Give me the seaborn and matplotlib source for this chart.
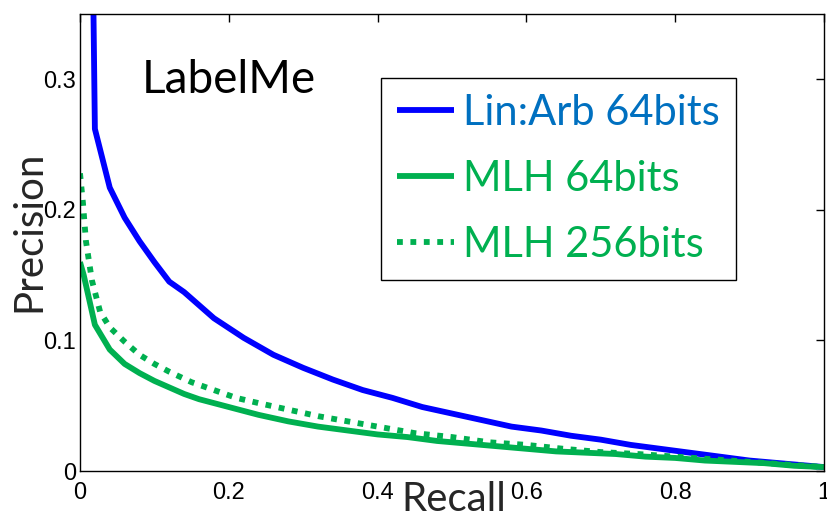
import numpy as np
import pandas as pd
import matplotlib
matplotlib.use("Agg")
import matplotlib.pyplot as plt
import seaborn as sns

# ---- data ----
linarb_recall = [0.016, 0.02, 0.04, 0.06, 0.08, 0.10, 0.12, 0.14, 0.18, 0.22, 0.26, 0.30, 0.34, 0.38,
                 0.42, 0.46, 0.50, 0.54, 0.58, 0.62, 0.66, 0.70, 0.74, 0.78, 0.82, 0.86, 0.90, 0.94, 1.0]
linarb_prec = [0.45, 0.262, 0.217, 0.194, 0.176, 0.160, 0.145, 0.137, 0.117, 0.102, 0.089, 0.079, 0.070,
               0.062, 0.056, 0.049, 0.044, 0.039, 0.034, 0.031, 0.027, 0.024, 0.020, 0.017, 0.014, 0.011,
               0.008, 0.006, 0.003]

mlh64_recall = [0.0, 0.005, 0.02, 0.04, 0.06, 0.08, 0.10, 0.12, 0.14, 0.16, 0.20, 0.24, 0.28, 0.32, 0.36,
                0.40, 0.44, 0.48, 0.52, 0.56, 0.60, 0.64, 0.68, 0.72, 0.76, 0.80, 0.84, 0.88, 0.92, 0.96, 1.0]
mlh64_prec = [0.160, 0.150, 0.112, 0.093, 0.082, 0.075, 0.069, 0.064, 0.059, 0.055, 0.049, 0.043, 0.038,
              0.034, 0.031, 0.028, 0.026, 0.023, 0.021, 0.019, 0.017, 0.015, 0.014, 0.013, 0.011, 0.010,
              0.008, 0.007, 0.006, 0.004, 0.003]

mlh256_recall = [0.0, 0.004, 0.008, 0.016, 0.027, 0.04, 0.06, 0.08, 0.10, 0.12, 0.15, 0.18, 0.21, 0.24,
                 0.28, 0.32, 0.36, 0.40, 0.45, 0.50, 0.55, 0.60, 0.65, 0.70, 0.75, 0.80, 0.85, 0.90, 0.95, 1.0]
mlh256_prec = [0.228, 0.205, 0.176, 0.146, 0.122, 0.110, 0.099, 0.089, 0.082, 0.076, 0.068, 0.062, 0.056,
               0.052, 0.047, 0.042, 0.038, 0.034, 0.029, 0.026, 0.022, 0.020, 0.017, 0.0145, 0.013, 0.011,
               0.009, 0.007, 0.005, 0.003]

series_names = ["Lin:Arb 64bits", "MLH 64bits", "MLH 256bits"]
x_ticks = [0, 0.2, 0.4, 0.6, 0.8, 1]
x_ticklabels = ["0", "0.2", "0.4", "0.6", "0.8", "1"]
y_ticks = [0, 0.1, 0.2, 0.3]
y_ticklabels = ["0", "0.1", "0.2", "0.3"]

df = pd.concat([
    pd.DataFrame({"Recall": linarb_recall, "Precision": linarb_prec, "method": series_names[0]}),
    pd.DataFrame({"Recall": mlh64_recall, "Precision": mlh64_prec, "method": series_names[1]}),
    pd.DataFrame({"Recall": mlh256_recall, "Precision": mlh256_prec, "method": series_names[2]}),
], ignore_index=True)

sns.set_style("white")
plt.rcParams["font.family"] = ["Liberation Sans", "DejaVu Sans"]

W, H = 827, 515
fig = plt.figure(figsize=(W / 100, H / 100), dpi=100)
ax = fig.add_axes([80 / W, 1 - 471 / H, 744 / W, 457 / H])

palette = {series_names[0]: "#0000FF", series_names[1]: "#00B050", series_names[2]: "#00B050"}
dashes = {series_names[0]: "", series_names[1]: "", series_names[2]: (1.0, 1.3)}
sns.lineplot(data=df, x="Recall", y="Precision", hue="method", style="method",
             palette=palette, dashes=dashes, sort=False, estimator=None,
             linewidth=4.2, ax=ax, legend=True)
for ln in ax.get_lines():
    ln.set_dash_capstyle("butt")
    ln.set_solid_capstyle("butt")

ax.set_xlim(0, 1)
ax.set_ylim(0, 0.35)
ax.set_xticks(x_ticks)
ax.set_xticklabels(x_ticklabels)
ax.set_yticks(y_ticks)
ax.set_yticklabels(y_ticklabels)
ax.tick_params(direction="in", length=6, width=1, top=True, right=True,
               labelsize=17, colors="black")
ax.tick_params(axis="x", pad=8)
ax.tick_params(axis="y", pad=3)
for s in ax.spines.values():
    s.set_visible(True)
    s.set_color("black")
    s.set_linewidth(1.0)

label_font = ["Lato", "DejaVu Sans"]
ax.set_xlabel("Recall", fontsize=29, family=label_font)
ax.xaxis.label.set_va("baseline")
ax.xaxis.set_label_coords((454 - 80) / 744, (471 - 511) / 457)
ax.set_ylabel("Precision", fontsize=29, family=label_font)
ax.yaxis.label.set_va("center")
ax.yaxis.set_label_coords((29 - 80) / 744, (471 - 231) / 457)

ax.text((142 - 80) / 744, (471 - 93) / 457, "LabelMe", transform=ax.transAxes,
        fontsize=33, family=label_font, ha="left", va="baseline", color="black")

leg = ax.legend(loc="upper left", bbox_to_anchor=(381 / W, 1 - 78 / H),
                bbox_transform=fig.transFigure, frameon=True, fancybox=False,
                edgecolor="black", framealpha=1, borderaxespad=0,
                prop={"family": label_font, "size": 30},
                handlelength=1.37, handletextpad=0.22, labelspacing=0.67,
                borderpad=0.38, title=None)
leg.get_frame().set_linewidth(1.0)
text_colors = ["#0070C0", "#00B050", "#00B050"]
for t, c in zip(leg.get_texts(), text_colors):
    t.set_color(c)
for h in leg.get_lines():
    h.set_linewidth(4.2)

fig.savefig("out.png", dpi=100)
